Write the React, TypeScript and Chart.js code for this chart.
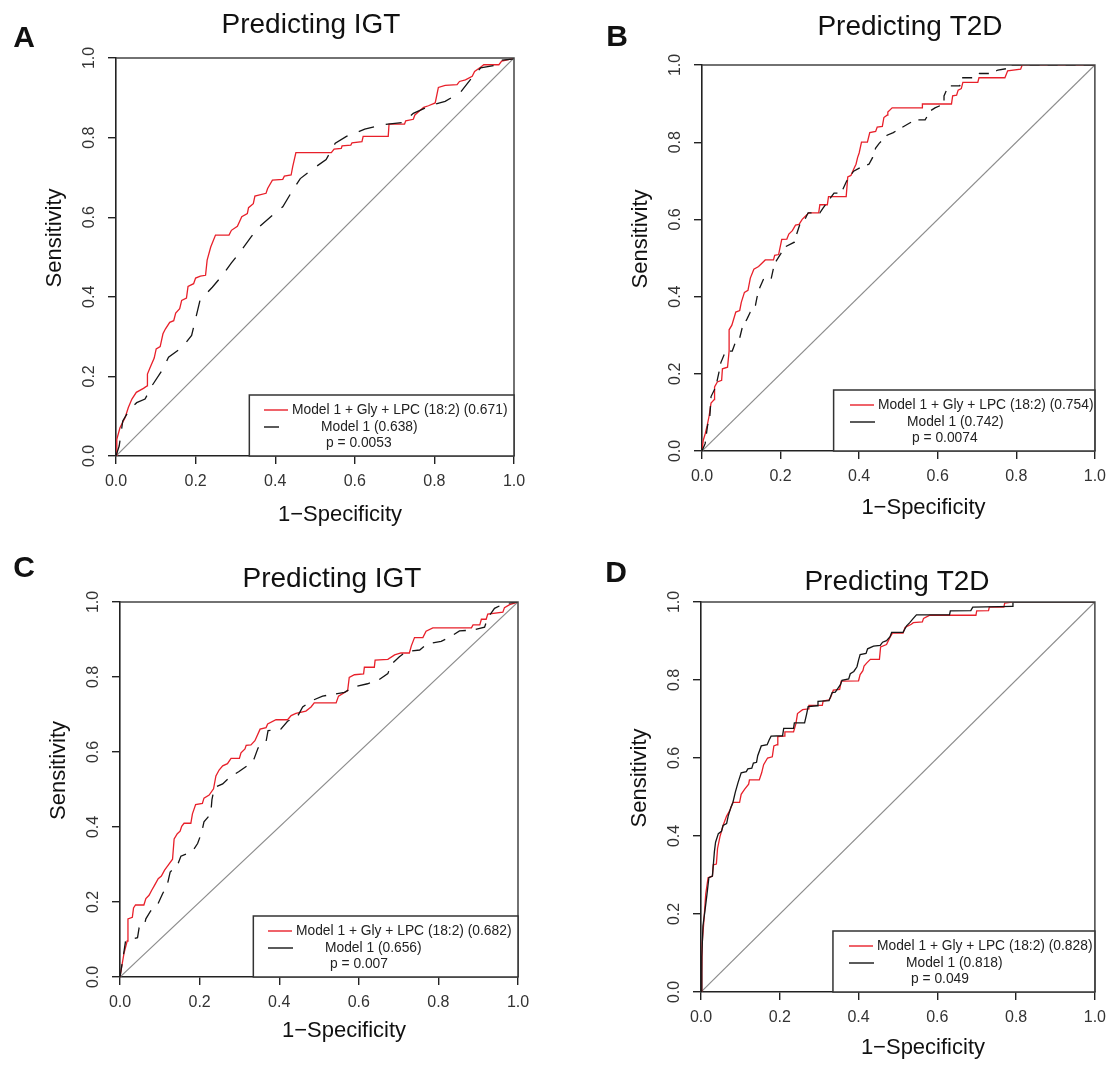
import React, { useEffect, useRef } from 'react';
import { Chart, registerables } from 'chart.js';

Chart.register(...registerables);

const W = 1114;
const H = 1075;
const FONT = "'Liberation Sans', Arial, Helvetica, sans-serif";
const RED = '#e8202a';
const BLACK = '#151515';
const DIAG = '#8c8c8c';
const AXIS = '#222222';
const X_AXIS_BAND = 44;

// ---------- text / labels ----------
const panelLetters = ['A', 'B', 'C', 'D'];
const panelTitles = ['Predicting IGT', 'Predicting T2D', 'Predicting IGT', 'Predicting T2D'];
const redModelName = 'Model 1 + Gly + LPC (18:2)';
const blackModelName = 'Model 1';
const aucRed = ['0.671', '0.754', '0.682', '0.828'];
const aucBlack = ['0.638', '0.742', '0.656', '0.818'];
const pValues = ['0.0053', '0.0074', '0.007', '0.049'];
const axisTicks = [0, 0.2, 0.4, 0.6, 0.8, 1.0];
const xAxisTitle = '1\u2212Specificity';
const yAxisTitle = 'Sensitivity';

// ---------- Panel A : Predicting IGT ----------
const aRedFpr = [0, 0.002, 0.010, 0.023, 0.031, 0.040, 0.051, 0.069, 0.078, 0.079, 0.086, 0.096, 0.101, 0.111, 0.118, 0.124, 0.135, 0.145, 0.150, 0.160, 0.165, 0.177, 0.181, 0.195, 0.200, 0.212, 0.225, 0.229, 0.238, 0.250, 0.284, 0.290, 0.305, 0.316, 0.330, 0.333, 0.345, 0.349, 0.377, 0.381, 0.393, 0.419, 0.423, 0.440, 0.444, 0.452, 0.541, 0.548, 0.566, 0.568, 0.590, 0.593, 0.618, 0.621, 0.684, 0.686, 0.725, 0.728, 0.747, 0.751, 0.773, 0.785, 0.802, 0.810, 0.827, 0.857, 0.863, 0.878, 0.895, 0.901, 0.916, 0.924, 0.962, 0.969, 0.986, 1];
const aRedTpr = [0, 0.042, 0.071, 0.097, 0.122, 0.143, 0.160, 0.170, 0.176, 0.206, 0.223, 0.246, 0.269, 0.275, 0.307, 0.319, 0.336, 0.340, 0.359, 0.370, 0.391, 0.397, 0.426, 0.433, 0.447, 0.452, 0.454, 0.492, 0.525, 0.555, 0.555, 0.567, 0.577, 0.601, 0.609, 0.624, 0.634, 0.653, 0.660, 0.672, 0.693, 0.695, 0.703, 0.706, 0.727, 0.762, 0.762, 0.771, 0.773, 0.779, 0.781, 0.787, 0.790, 0.803, 0.803, 0.834, 0.834, 0.842, 0.846, 0.857, 0.876, 0.880, 0.887, 0.926, 0.931, 0.933, 0.941, 0.945, 0.954, 0.966, 0.977, 0.983, 0.983, 0.992, 0.996, 1];
const aBlackFpr = [0, 0.008, 0.017, 0.035, 0.052, 0.073, 0.084, 0.090, 0.115, 0.132, 0.166, 0.190, 0.201, 0.211, 0.242, 0.265, 0.290, 0.312, 0.339, 0.360, 0.393, 0.419, 0.444, 0.463, 0.497, 0.528, 0.551, 0.579, 0.625, 0.667, 0.722, 0.747, 0.794, 0.827, 0.865, 0.890, 0.916, 0.960, 0.962, 0.996, 1];
const aBlackTpr = [0, 0.025, 0.088, 0.118, 0.134, 0.143, 0.164, 0.176, 0.214, 0.248, 0.273, 0.303, 0.349, 0.391, 0.424, 0.451, 0.485, 0.513, 0.550, 0.576, 0.605, 0.626, 0.668, 0.697, 0.723, 0.745, 0.786, 0.803, 0.821, 0.832, 0.838, 0.861, 0.882, 0.891, 0.913, 0.945, 0.975, 0.983, 0.994, 0.997, 1];

// ---------- Panel B : Predicting T2D ----------
const bRedFpr = [0, 0.003, 0.008, 0.013, 0.018, 0.023, 0.031, 0.032, 0.039, 0.050, 0.052, 0.065, 0.069, 0.069, 0.076, 0.086, 0.096, 0.100, 0.108, 0.117, 0.123, 0.132, 0.144, 0.161, 0.182, 0.185, 0.195, 0.203, 0.216, 0.221, 0.230, 0.238, 0.247, 0.255, 0.263, 0.272, 0.297, 0.300, 0.319, 0.322, 0.367, 0.371, 0.379, 0.386, 0.392, 0.396, 0.400, 0.406, 0.421, 0.427, 0.442, 0.446, 0.459, 0.463, 0.471, 0.473, 0.484, 0.560, 0.561, 0.635, 0.638, 0.648, 0.652, 0.660, 0.664, 0.702, 0.705, 0.771, 0.778, 0.811, 0.815, 1];
const bRedTpr = [0, 0.027, 0.044, 0.065, 0.090, 0.124, 0.133, 0.166, 0.179, 0.183, 0.213, 0.217, 0.259, 0.314, 0.326, 0.360, 0.364, 0.385, 0.411, 0.416, 0.448, 0.471, 0.478, 0.495, 0.495, 0.507, 0.509, 0.548, 0.549, 0.562, 0.571, 0.585, 0.587, 0.600, 0.608, 0.617, 0.617, 0.638, 0.638, 0.659, 0.659, 0.710, 0.714, 0.730, 0.743, 0.760, 0.772, 0.800, 0.800, 0.825, 0.828, 0.839, 0.841, 0.864, 0.870, 0.878, 0.889, 0.889, 0.899, 0.899, 0.920, 0.922, 0.935, 0.939, 0.955, 0.955, 0.967, 0.967, 0.985, 0.989, 1.0, 1];
const bBlackFpr = [0, 0.008, 0.014, 0.020, 0.023, 0.035, 0.044, 0.048, 0.060, 0.077, 0.086, 0.096, 0.102, 0.115, 0.123, 0.136, 0.140, 0.147, 0.157, 0.176, 0.182, 0.188, 0.201, 0.210, 0.235, 0.241, 0.249, 0.262, 0.270, 0.300, 0.308, 0.320, 0.336, 0.354, 0.367, 0.375, 0.386, 0.404, 0.425, 0.434, 0.442, 0.451, 0.471, 0.487, 0.522, 0.543, 0.568, 0.581, 0.593, 0.616, 0.616, 0.627, 0.656, 0.660, 0.690, 0.706, 0.736, 0.753, 0.778, 0.782, 1];
const bBlackTpr = [0, 0.019, 0.065, 0.090, 0.141, 0.166, 0.208, 0.229, 0.259, 0.259, 0.284, 0.293, 0.318, 0.343, 0.360, 0.377, 0.398, 0.423, 0.446, 0.446, 0.474, 0.491, 0.512, 0.528, 0.541, 0.562, 0.587, 0.600, 0.617, 0.617, 0.629, 0.646, 0.668, 0.668, 0.697, 0.710, 0.725, 0.735, 0.743, 0.760, 0.785, 0.797, 0.818, 0.825, 0.846, 0.858, 0.858, 0.881, 0.889, 0.899, 0.920, 0.946, 0.946, 0.967, 0.967, 0.978, 0.978, 0.987, 0.991, 1.0, 1];

// ---------- Panel C : Predicting IGT ----------
const cRedFpr = [0, 0.006, 0.010, 0.018, 0.020, 0.031, 0.034, 0.039, 0.060, 0.065, 0.073, 0.079, 0.086, 0.096, 0.104, 0.112, 0.123, 0.132, 0.136, 0.144, 0.151, 0.155, 0.161, 0.178, 0.182, 0.190, 0.207, 0.211, 0.224, 0.235, 0.241, 0.249, 0.258, 0.270, 0.279, 0.300, 0.304, 0.314, 0.317, 0.329, 0.339, 0.352, 0.367, 0.371, 0.392, 0.421, 0.430, 0.442, 0.467, 0.480, 0.488, 0.543, 0.549, 0.572, 0.576, 0.589, 0.612, 0.614, 0.639, 0.641, 0.673, 0.690, 0.706, 0.727, 0.732, 0.740, 0.761, 0.769, 0.786, 0.883, 0.887, 0.904, 0.908, 0.920, 0.924, 0.962, 0.966, 0.979, 1];
const cRedTpr = [0, 0.038, 0.063, 0.096, 0.155, 0.159, 0.184, 0.192, 0.192, 0.209, 0.218, 0.230, 0.243, 0.262, 0.269, 0.285, 0.301, 0.314, 0.368, 0.382, 0.389, 0.402, 0.410, 0.410, 0.435, 0.460, 0.463, 0.477, 0.485, 0.502, 0.536, 0.552, 0.563, 0.569, 0.583, 0.583, 0.598, 0.608, 0.618, 0.619, 0.630, 0.661, 0.665, 0.675, 0.686, 0.686, 0.697, 0.703, 0.709, 0.720, 0.731, 0.731, 0.749, 0.764, 0.799, 0.806, 0.808, 0.826, 0.826, 0.845, 0.847, 0.859, 0.864, 0.864, 0.883, 0.905, 0.905, 0.922, 0.931, 0.931, 0.939, 0.939, 0.954, 0.954, 0.968, 0.973, 0.985, 0.993, 1];
const cBlackFpr = [0, 0.008, 0.014, 0.044, 0.048, 0.060, 0.065, 0.077, 0.094, 0.107, 0.119, 0.126, 0.144, 0.153, 0.182, 0.195, 0.205, 0.211, 0.228, 0.231, 0.237, 0.258, 0.274, 0.299, 0.322, 0.337, 0.347, 0.367, 0.372, 0.404, 0.421, 0.446, 0.459, 0.480, 0.509, 0.564, 0.589, 0.622, 0.648, 0.673, 0.681, 0.702, 0.719, 0.753, 0.773, 0.807, 0.828, 0.853, 0.887, 0.916, 0.924, 0.941, 0.966, 1];
const cBlackTpr = [0, 0.054, 0.096, 0.105, 0.131, 0.133, 0.155, 0.176, 0.192, 0.222, 0.247, 0.280, 0.297, 0.322, 0.335, 0.356, 0.385, 0.414, 0.435, 0.473, 0.505, 0.515, 0.531, 0.548, 0.565, 0.582, 0.611, 0.628, 0.657, 0.661, 0.682, 0.695, 0.720, 0.736, 0.749, 0.759, 0.774, 0.782, 0.791, 0.809, 0.833, 0.854, 0.868, 0.872, 0.889, 0.895, 0.906, 0.923, 0.925, 0.933, 0.958, 0.983, 0.996, 1];

// ---------- Panel D : Predicting T2D ----------
const dRedFpr = [0, 0.002, 0.003, 0.008, 0.012, 0.018, 0.029, 0.031, 0.039, 0.042, 0.048, 0.056, 0.065, 0.073, 0.081, 0.098, 0.102, 0.111, 0.121, 0.123, 0.148, 0.154, 0.159, 0.169, 0.181, 0.185, 0.193, 0.195, 0.211, 0.213, 0.235, 0.241, 0.245, 0.258, 0.273, 0.274, 0.308, 0.310, 0.325, 0.329, 0.336, 0.352, 0.356, 0.400, 0.404, 0.411, 0.414, 0.421, 0.430, 0.453, 0.456, 0.471, 0.480, 0.486, 0.513, 0.518, 0.534, 0.539, 0.562, 0.565, 0.581, 0.698, 0.700, 0.730, 0.732, 0.769, 0.771, 0.790, 1];
const dRedTpr = [0, 0.048, 0.124, 0.192, 0.251, 0.293, 0.297, 0.326, 0.328, 0.368, 0.398, 0.427, 0.451, 0.465, 0.486, 0.486, 0.507, 0.520, 0.533, 0.544, 0.544, 0.562, 0.583, 0.600, 0.603, 0.631, 0.634, 0.655, 0.656, 0.667, 0.667, 0.688, 0.714, 0.724, 0.726, 0.735, 0.735, 0.746, 0.749, 0.755, 0.774, 0.776, 0.797, 0.798, 0.814, 0.824, 0.836, 0.844, 0.853, 0.853, 0.885, 0.891, 0.910, 0.920, 0.920, 0.935, 0.943, 0.947, 0.949, 0.958, 0.966, 0.966, 0.977, 0.978, 0.987, 0.987, 0.997, 1.0, 1];
const dBlackFpr = [0, 0.002, 0.005, 0.010, 0.015, 0.020, 0.029, 0.034, 0.037, 0.044, 0.052, 0.056, 0.065, 0.069, 0.076, 0.081, 0.087, 0.094, 0.102, 0.115, 0.119, 0.129, 0.133, 0.141, 0.144, 0.153, 0.168, 0.173, 0.178, 0.207, 0.210, 0.235, 0.237, 0.263, 0.268, 0.272, 0.295, 0.297, 0.325, 0.333, 0.341, 0.354, 0.358, 0.375, 0.379, 0.388, 0.396, 0.400, 0.404, 0.419, 0.423, 0.438, 0.455, 0.461, 0.471, 0.480, 0.484, 0.513, 0.522, 0.530, 0.539, 0.547, 0.631, 0.633, 0.685, 0.690, 0.790, 0.792, 1];
const dBlackTpr = [0, 0.090, 0.170, 0.208, 0.249, 0.293, 0.297, 0.360, 0.384, 0.406, 0.412, 0.427, 0.432, 0.451, 0.474, 0.486, 0.512, 0.537, 0.562, 0.565, 0.572, 0.574, 0.587, 0.589, 0.606, 0.631, 0.634, 0.646, 0.656, 0.657, 0.676, 0.676, 0.690, 0.690, 0.712, 0.732, 0.734, 0.745, 0.747, 0.768, 0.769, 0.788, 0.799, 0.803, 0.816, 0.822, 0.834, 0.851, 0.865, 0.868, 0.880, 0.887, 0.889, 0.897, 0.901, 0.911, 0.922, 0.922, 0.939, 0.947, 0.958, 0.967, 0.967, 0.977, 0.978, 0.987, 0.989, 1.0, 1];

const seriesRed = [
  [aRedFpr, aRedTpr],
  [bRedFpr, bRedTpr],
  [cRedFpr, cRedTpr],
  [dRedFpr, dRedTpr],
];
const seriesBlack = [
  [aBlackFpr, aBlackTpr],
  [bBlackFpr, bBlackTpr],
  [cBlackFpr, cBlackTpr],
  [dBlackFpr, dBlackTpr],
];

// ---------- layout (positions / styles only) ----------
const LAYOUT = [
  { left: 116, top: 58, right: 514, bottom: 456, letterX: 24, letterY: 39, titleX: 311, titleY: 25, xTitleDy: 59, dash: [16, 12], legendBlackLen: 15 },
  { left: 702, top: 65, right: 1100, bottom: 451, letterX: 617, letterY: 38, titleX: 910, titleY: 27, xTitleDy: 57, dash: [10, 8], legendBlackLen: 25 },
  { left: 120, top: 602, right: 518, bottom: 977, letterX: 24, letterY: 569, titleX: 332, titleY: 579, xTitleDy: 54, dash: [13, 10], legendBlackLen: 25 },
  { left: 701, top: 602, right: 1100, bottom: 992, letterX: 616, letterY: 574, titleX: 897, titleY: 582, xTitleDy: 56, dash: [] as number[], legendBlackLen: 25 },
];

const toPoints = (xs: number[], ys: number[]) => {
  const n = Math.min(xs.length, ys.length);
  const out: { x: number; y: number }[] = [];
  for (let i = 0; i < n; i++) out.push({ x: xs[i], y: ys[i] });
  return out;
};

function makeDecor(idx: number) {
  const L = LAYOUT[idx];
  return {
    id: 'decor' + idx,
    afterDraw(chart: any) {
      const { ctx, chartArea: ca } = chart;
      const ys = chart.scales.y;
      ctx.save();
      // box top & right
      ctx.strokeStyle = '#444';
      ctx.lineWidth = 1.5;
      ctx.beginPath();
      ctx.moveTo(ca.left, ca.top);
      ctx.lineTo(ca.right, ca.top);
      ctx.lineTo(ca.right, ca.bottom);
      ctx.stroke();

      // rotated y tick labels
      ctx.fillStyle = '#333';
      ctx.font = `16px ${FONT}`;
      ctx.textAlign = 'center';
      ctx.textBaseline = 'middle';
      for (const v of axisTicks) {
        const y = ys.getPixelForValue(v);
        ctx.save();
        ctx.translate(ca.left - 26, y);
        ctx.rotate(-Math.PI / 2);
        ctx.fillText(v.toFixed(1), 0, 0);
        ctx.restore();
      }

      // axis titles
      ctx.fillStyle = '#111';
      ctx.font = `22px ${FONT}`;
      ctx.save();
      ctx.translate(ca.left - 61, (ca.top + ca.bottom) / 2 - 19);
      ctx.rotate(-Math.PI / 2);
      ctx.fillText(yAxisTitle, 0, 0);
      ctx.restore();
      ctx.fillText(xAxisTitle, (ca.left + ca.right) / 2 + 25, ca.bottom + L.xTitleDy);

      // panel title
      ctx.font = `28px ${FONT}`;
      ctx.fillText(panelTitles[idx], L.titleX, L.titleY);

      // panel letter
      ctx.font = `bold 30px ${FONT}`;
      ctx.fillText(panelLetters[idx], L.letterX, L.letterY);

      // legend
      const lx = ca.left + (ca.right - ca.left) * 0.335;
      const ly = ca.bottom - 61;
      ctx.fillStyle = '#fff';
      ctx.fillRect(lx, ly, ca.right - lx, ca.bottom - ly);
      ctx.strokeStyle = '#333';
      ctx.lineWidth = 1.5;
      ctx.strokeRect(lx, ly, ca.right - lx, ca.bottom - ly);

      const segX = ca.left + 148;
      ctx.lineWidth = 1.4;
      ctx.strokeStyle = RED;
      ctx.beginPath();
      ctx.moveTo(segX, ca.bottom - 46);
      ctx.lineTo(segX + 24, ca.bottom - 46);
      ctx.stroke();
      ctx.strokeStyle = BLACK;
      ctx.beginPath();
      ctx.moveTo(segX, ca.bottom - 29);
      ctx.lineTo(segX + L.legendBlackLen, ca.bottom - 29);
      ctx.stroke();

      ctx.fillStyle = '#222';
      ctx.font = `13.8px ${FONT}`;
      ctx.textAlign = 'left';
      ctx.fillText(`${redModelName} (${aucRed[idx]})`, ca.left + 176, ca.bottom - 46);
      ctx.fillText(`${blackModelName} (${aucBlack[idx]})`, ca.left + 205, ca.bottom - 29);
      ctx.fillText(`p = ${pValues[idx]}`, ca.left + 210, ca.bottom - 13);
      ctx.restore();
    },
  };
}

function buildConfig(idx: number): any {
  const L = LAYOUT[idx];
  const [rx, ry] = seriesRed[idx];
  const [bx, by] = seriesBlack[idx];
  const axisCommon = {
    type: 'linear',
    min: 0,
    max: 1,
    border: { display: true, color: AXIS, width: 1.6 },
    grid: { drawOnChartArea: false, drawTicks: true, tickLength: 8, color: AXIS, lineWidth: 1.4 },
  };
  return {
    type: 'scatter',
    data: {
      datasets: [
        {
          label: `${blackModelName} (${aucBlack[idx]})`,
          data: toPoints(bx, by),
          showLine: true,
          borderColor: BLACK,
          borderWidth: 1.3,
          borderDash: L.dash,
          pointRadius: 0,
          fill: false,
          order: 0,
        },
        {
          label: `${redModelName} (${aucRed[idx]})`,
          data: toPoints(rx, ry),
          showLine: true,
          borderColor: RED,
          borderWidth: 1.3,
          pointRadius: 0,
          fill: false,
          order: 1,
        },
        {
          label: 'reference',
          data: [{ x: 0, y: 0 }, { x: 1, y: 1 }],
          showLine: true,
          borderColor: DIAG,
          borderWidth: 1.2,
          pointRadius: 0,
          fill: false,
          order: 2,
        },
      ],
    },
    options: {
      responsive: false,
      animation: false,
      events: [],
      layout: { padding: { left: L.left, top: L.top, right: W - L.right, bottom: H - L.bottom - X_AXIS_BAND } },
      scales: {
        x: {
          ...axisCommon,
          position: 'bottom',
          afterFit: (s: any) => { s.height = X_AXIS_BAND; },
          ticks: {
            stepSize: 0.2,
            autoSkip: false,
            maxRotation: 0,
            minRotation: 0,
            padding: 8,
            color: '#333',
            font: { family: FONT, size: 16 },
            callback: (v: any) => Number(v).toFixed(1),
          },
        },
        y: {
          ...axisCommon,
          position: 'left',
          afterFit: (s: any) => { s.width = 0; },
          ticks: { stepSize: 0.2, display: false },
        },
      },
      plugins: {
        legend: { display: false },
        tooltip: { enabled: false },
        title: { display: false },
      },
    },
    plugins: [makeDecor(idx)],
  };
}

function Panel({ idx }: { idx: number }) {
  const ref = useRef<HTMLCanvasElement>(null);
  useEffect(() => {
    if (!ref.current) return;
    const chart = new Chart(ref.current, buildConfig(idx));
    return () => chart.destroy();
  }, [idx]);
  return (
    <canvas
      ref={ref}
      width={W}
      height={H}
      style={{ position: 'absolute', left: 0, top: 0, width: W, height: H }}
    />
  );
}

export default function App() {
  return (
    <div style={{ position: 'absolute', left: 0, top: 0, width: W, height: H, background: '#fff', overflow: 'hidden' }}>
      {LAYOUT.map((_, i) => (
        <Panel key={i} idx={i} />
      ))}
    </div>
  );
}
